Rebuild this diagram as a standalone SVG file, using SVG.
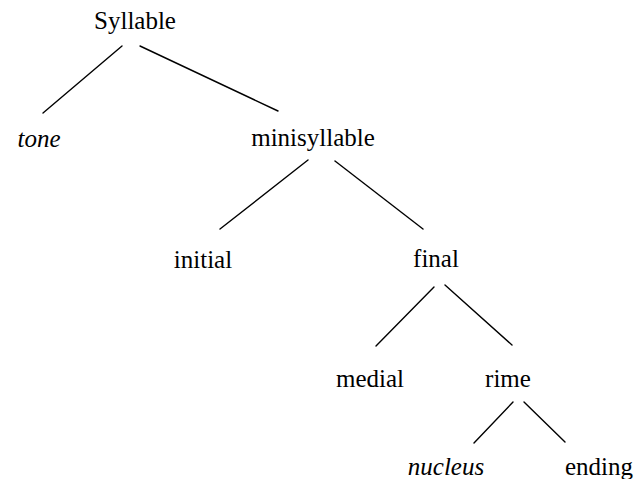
<svg xmlns="http://www.w3.org/2000/svg" width="634" height="479" viewBox="0 0 634 479">
<style>
text{font-family:'Liberation Serif','Times New Roman',Tinos,'DejaVu Serif','Noto Serif',serif;font-size:25px;fill:#000;text-anchor:middle}
.it{font-style:italic}
#edges line{stroke:#000;stroke-width:1.4;stroke-linecap:round}
</style>
<rect width="634" height="479" fill="#fff"/>
<g id="edges">
<line x1="122" y1="46" x2="43" y2="113"/>
<line x1="140" y1="46" x2="278" y2="111"/>
<line x1="308" y1="160" x2="220" y2="229"/>
<line x1="335" y1="161" x2="423" y2="229"/>
<line x1="434" y1="287" x2="376" y2="346"/>
<line x1="445" y1="285" x2="512" y2="345"/>
<line x1="513" y1="402" x2="474" y2="443"/>
<line x1="524" y1="402" x2="565" y2="442"/>
</g>
<g id="syllable"><text x="135" y="29" font-family="Liberation Serif">Syllable</text></g>
<g id="tone"><text class="it" x="39" y="147">tone</text></g>
<g id="minisyllable"><text x="313" y="146">minisyllable</text></g>
<g id="initial"><text x="203" y="268">initial</text></g>
<g id="final"><text x="436" y="267">final</text></g>
<g id="medial"><text x="370" y="387">medial</text></g>
<g id="rime"><text x="508" y="387">rime</text></g>
<g id="nucleus"><text class="it" x="446" y="475">nucleus</text></g>
<g id="ending"><text x="599" y="475">ending</text></g>
</svg>
